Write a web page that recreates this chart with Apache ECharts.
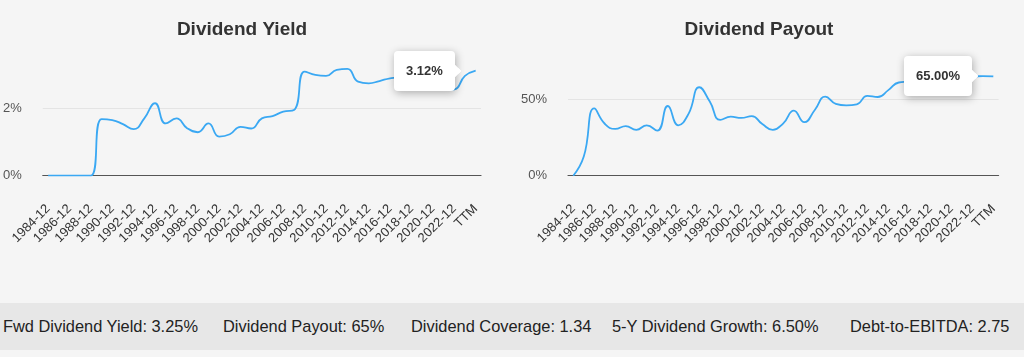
<!DOCTYPE html>
<html>
<head>
<meta charset="utf-8">
<script src="https://cdn.jsdelivr.net/npm/echarts@6/dist/echarts.min.js"></script>
<style>
  html, body { margin: 0; padding: 0; background: #f5f5f5; width: 1024px; height: 357px; overflow: hidden; font-family: "Liberation Sans", Arial, sans-serif; }
  #c1 { position: absolute; left: 0; top: 0; width: 484px; height: 300px; }
  #c2 { position: absolute; left: 518px; top: 0; width: 482px; height: 300px; }
  #band { position: absolute; left: 0; top: 303px; width: 1024px; height: 47px; background: #e7e7e7; line-height: 47px; font-size: 16.4px; color: #222; white-space: nowrap; }
  #band span { position: absolute; top: 0; }
</style>
</head>
<body>
<div id="c1"></div>
<div id="c2"></div>
<div id="band"></div>
<script>
const categories = ['1984-12','1985-12','1986-12','1987-12','1988-12','1989-12','1990-12','1991-12','1992-12','1993-12','1994-12','1995-12','1996-12','1997-12','1998-12','1999-12','2000-12','2001-12','2002-12','2003-12','2004-12','2005-12','2006-12','2007-12','2008-12','2009-12','2010-12','2011-12','2012-12','2013-12','2014-12','2015-12','2016-12','2017-12','2018-12','2019-12','2020-12','2021-12','2022-12','2023-12','TTM'];
const yieldValues = [0,0,0,0,0,1.68,1.65,1.53,1.38,1.70,2.15,1.55,1.70,1.41,1.29,1.55,1.16,1.23,1.45,1.40,1.70,1.77,1.90,1.95,3.09,2.99,2.96,3.14,3.17,2.79,2.74,2.81,2.89,2.92,2.90,2.88,2.72,2.54,2.56,2.96,3.12];
const payoutValues = [0,12.5,44,34,30.6,32.5,30,33,29.5,45.6,33,40.8,57.9,48.5,36.5,38.6,37.8,39,33.8,30,34.3,42.6,35,43,51.7,47,46,46.7,52.2,51.5,56,61,61.6,63,64,65,65,65,65,65.2,65];
const yieldTicks = { max: 3.5, interval: 2 };
const payoutTicks = { max: 75, interval: 50 };
const stats = [
  ['Fwd Dividend Yield: 3.25%', 3],
  ['Dividend Payout: 65%', 223],
  ['Dividend Coverage: 1.34', 411],
  ['5-Y Dividend Growth: 6.50%', 612],
  ['Debt-to-EBITDA: 2.75', 850]
];

const FONT = '"Liberation Sans", Arial, sans-serif';
const band = document.getElementById('band');
stats.forEach(([t, x]) => {
  const s = document.createElement('span');
  s.textContent = t;
  s.style.left = x + 'px';
  band.appendChild(s);
});

function makeOption(title, values, ticks, gridLeft, gridRight, gridTop) {
  return {
    animation: false,
    backgroundColor: 'transparent',
    title: {
      text: title, left: 'center', top: 15,
      textStyle: { fontSize: 19, fontWeight: 'bold', color: '#333', fontFamily: FONT }
    },
    tooltip: {
      trigger: 'item',
      triggerOn: 'none',
      alwaysShowContent: true,
      position: 'left',
      transitionDuration: 0,
      backgroundColor: '#fff',
      borderColor: '#fff',
      borderWidth: 4,
      borderRadius: 4,
      padding: [6, 8],
      shadowBlur: 8,
      shadowColor: 'rgba(0,0,0,0.3)',
      shadowOffsetX: 1,
      shadowOffsetY: 2,
      textStyle: { color: '#333', fontSize: 13, fontWeight: 'bold', fontFamily: FONT },
      formatter: p => '<b>' + Number(p.value).toFixed(2) + '%</b>'
    },
    grid: { left: gridLeft, right: gridRight, top: gridTop, bottom: 300 - 175.7 },
    xAxis: {
      type: 'category',
      data: categories,
      boundaryGap: true,
      axisTick: { show: false },
      axisLine: { lineStyle: { color: '#555', width: 1.2 } },
      axisLabel: { rotate: 45, interval: 1, fontSize: 13, color: '#333', margin: 31, fontFamily: FONT }
    },
    yAxis: {
      type: 'value',
      min: 0, max: ticks.max, interval: ticks.interval,
      axisLine: { show: false },
      axisTick: { show: false },
      splitLine: { show: true, showMaxLine: false, lineStyle: { color: '#e4e4e4', width: 1 } },
      axisLabel: { fontSize: 13, color: '#555', margin: 21, showMaxLabel: false, fontFamily: FONT, formatter: v => v + '%' }
    },
    series: [{
      type: 'line',
      data: values,
      smooth: true,
      showSymbol: true,
      showAllSymbol: true,
      symbol: 'circle',
      symbolSize: 14,
      itemStyle: { opacity: 0 },
      lineStyle: { color: '#3aa8f3', width: 1.8 },
      emphasis: { disabled: true }
    }]
  };
}

const ch1 = echarts.init(document.getElementById('c1'), null, { renderer: 'canvas' });
ch1.setOption(makeOption('Dividend Yield', yieldValues, yieldTicks, 42, 3, 175.7 - 3.5 * 33.7));
const ch2 = echarts.init(document.getElementById('c2'), null, { renderer: 'canvas' });
ch2.setOption(makeOption('Dividend Payout', payoutValues, payoutTicks, 48, 1.3, 175.7 - 75 * 1.528));

ch1.dispatchAction({ type: 'showTip', seriesIndex: 0, dataIndex: categories.length - 1 });
ch2.dispatchAction({ type: 'showTip', seriesIndex: 0, dataIndex: categories.length - 1 });
</script>
</body>
</html>
